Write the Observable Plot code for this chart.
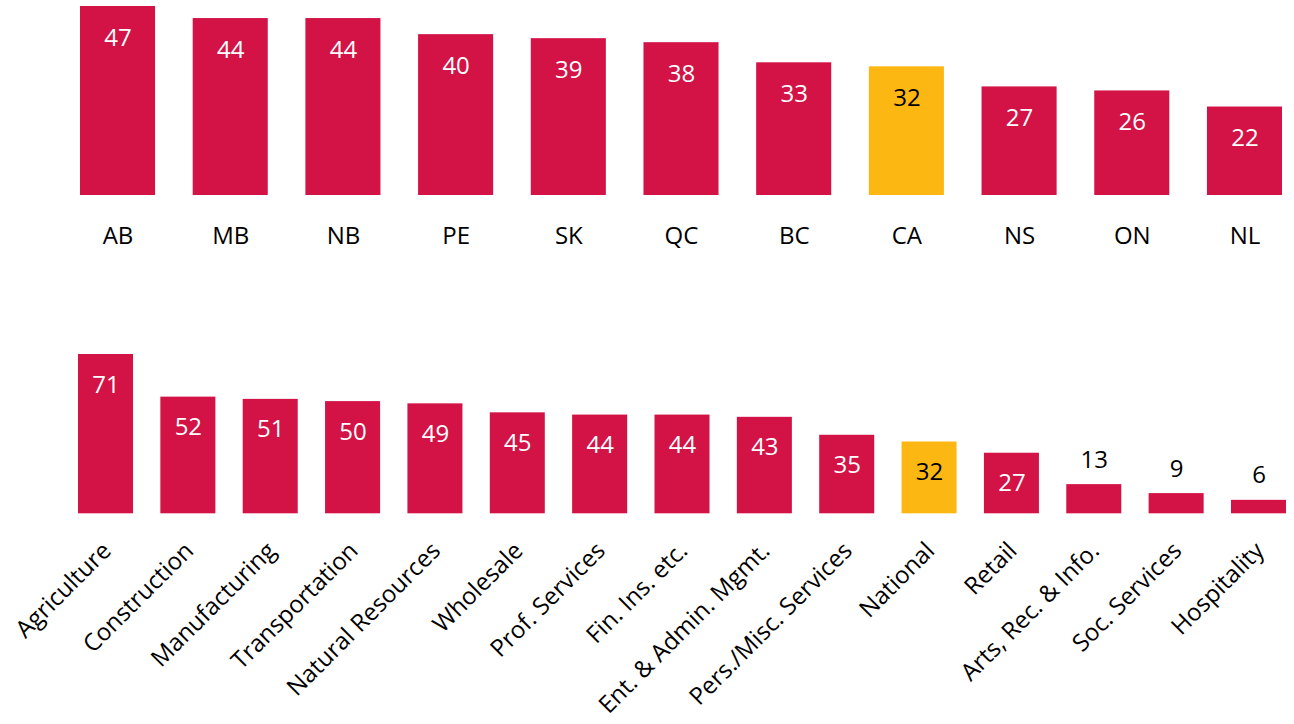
<!DOCTYPE html>
<html><head><meta charset="utf-8">
<script src="https://cdn.jsdelivr.net/npm/d3@7"></script>
<script src="https://cdn.jsdelivr.net/npm/@observablehq/plot@0.6"></script>
<style>
body{margin:0;background:#fff;}
#c svg{display:block;}
</style>
</head><body><div id="c"></div>
<script>
const provinces = ["AB","MB","NB","PE","SK","QC","BC","CA","NS","ON","NL"];
const provinceValues = [47,44,44,40,39,38,33,32,27,26,22];
const industries = ["Agriculture","Construction","Manufacturing","Transportation","Natural Resources","Wholesale","Prof. Services","Fin. Ins. etc.","Ent. & Admin. Mgmt.","Pers./Misc. Services","National","Retail","Arts, Rec. & Info.","Soc. Services","Hospitality"];
const industryValues = [71,52,51,50,49,45,44,44,43,35,32,27,13,9,6];
const highlighted = ["CA","National"];
const RED = "#D31245", GOLD = "#FDB713";
const FONT = "'Open Sans', sans-serif";

const provData = provinces.map((k,i)=>({k, v: provinceValues[i], h: highlighted.includes(k)}));
const indData = industries.map((k,i)=>({k, v: industryValues[i], h: highlighted.includes(k)}));

function chart(data, opts){
  const inside = data.filter(d=>d.v >= 20);
  const outside = data.filter(d=>d.v < 20);
  return Plot.plot({
    width: 1294, height: opts.height,
    marginTop: opts.marginTop, marginBottom: opts.marginBottom,
    marginLeft: opts.marginLeft, marginRight: opts.marginRight,
    style: {fontFamily: FONT, background: "white"},
    x: {domain: data.map(d=>d.k), paddingInner: opts.pad, paddingOuter: 0, round: false, label: null},
    y: {domain: [0, opts.max], axis: null},
    marks: [
      Plot.barY(data, {x: "k", y: "v", fill: d=>d.h ? GOLD : RED}),
      Plot.text(inside, {x: "k", y: "v", text: d=>String(d.v), lineAnchor: "top", dy: opts.inDy, fontSize: 24, fill: d=>d.h ? "black" : "white"}),
      Plot.text(outside, {x: "k", y: "v", text: d=>String(d.v), lineAnchor: "bottom", dy: -17, fontSize: 24, fill: "black"}),
      Plot.axisX(opts.axis)
    ]
  });
}

const c = document.getElementById("c");
c.append(chart(provData, {height: 300, marginTop: 6, marginBottom: 105, marginLeft: 80, marginRight: 12, pad: 0.334, max: 47, inDy: 22,
  axis: {tickSize: 0, tickPadding: 31, fontSize: 24, fill: "black", label: null}}));
c.append(chart(indData, {height: 424, marginTop: 54, marginBottom: 210.7, marginLeft: 78, marginRight: 8, pad: 0.332, max: 71, inDy: 21,
  axis: {tickSize: 0, tickPadding: 33, tickRotate: -45, dx: 1, fontSize: 24, fill: "black", label: null}}));
</script>
</body></html>
